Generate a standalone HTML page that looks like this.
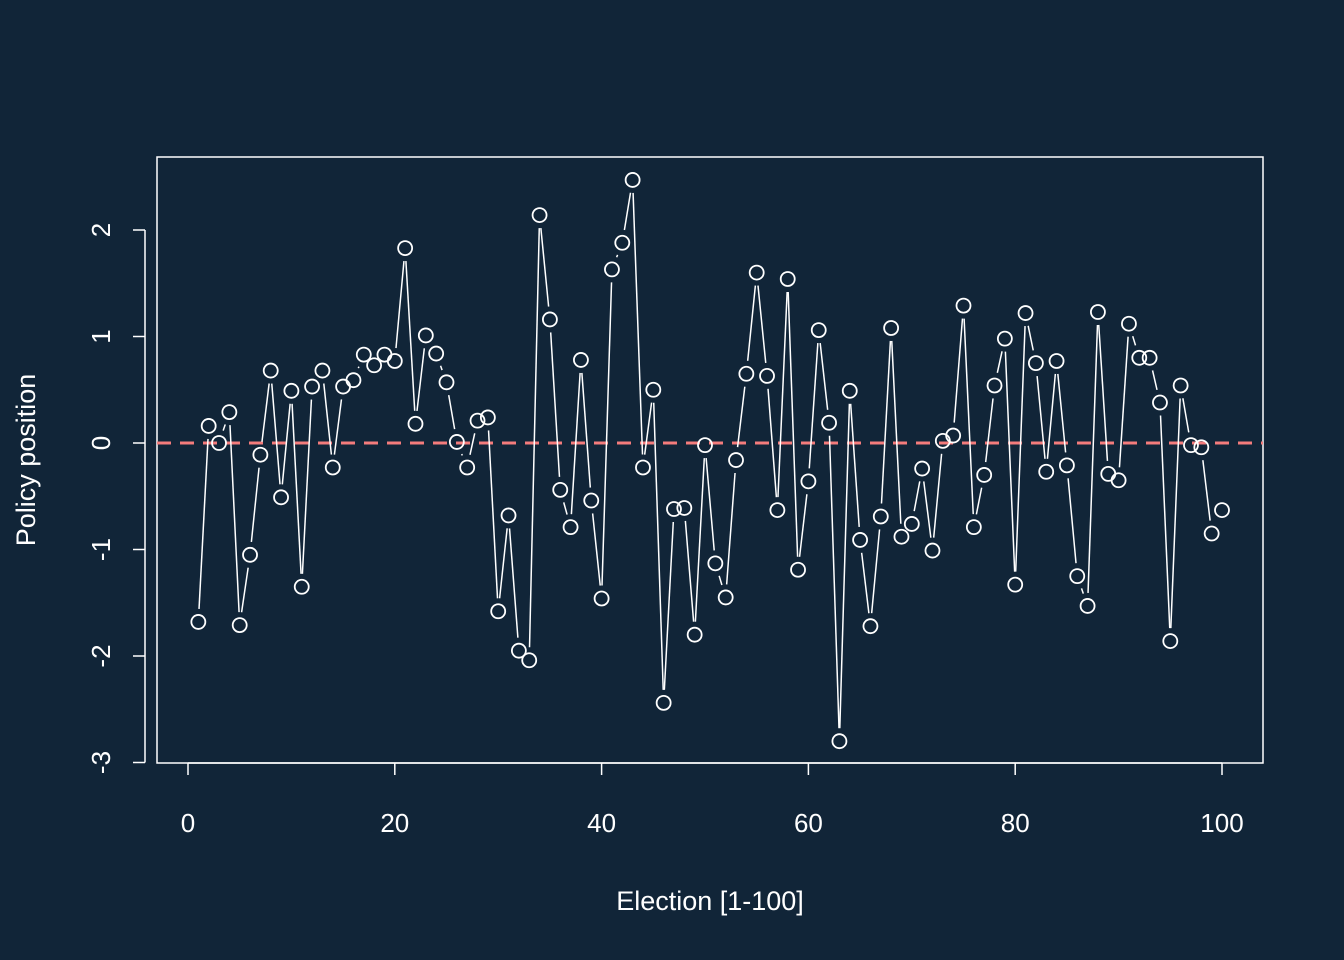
<!DOCTYPE html>
<html><head><meta charset="utf-8"><style>
body{margin:0;background:#112538;}
svg{display:block;font-family:"Liberation Sans",sans-serif;}
</style></head><body>
<svg id="chart" width="1344" height="960">
<rect width="1344" height="960" fill="#112538"/>
<rect x="157" y="157" width="1106" height="606" fill="none" stroke="#fff" stroke-width="1.5"/>
<g id="axes"></g>
<line id="ref" stroke="#F47C7C" stroke-width="3" stroke-dasharray="14,9"/>
<g id="marks"></g>
<text x="710" y="910" fill="#fff" font-size="27" text-anchor="middle">Election [1-100]</text>
<text transform="translate(35,460) rotate(-90)" fill="#fff" font-size="27" text-anchor="middle">Policy position</text>
</svg>
<script>
const positions=[-1.68,0.16,0.0,0.29,-1.71,-1.05,-0.11,0.68,-0.51,0.49,-1.35,0.53,0.68,-0.23,0.53,0.59,0.83,0.73,0.83,0.77,1.83,0.18,1.01,0.84,0.57,0.01,-0.23,0.21,0.24,-1.58,-0.68,-1.95,-2.04,2.14,1.16,-0.44,-0.79,0.78,-0.54,-1.46,1.63,1.88,2.47,-0.23,0.50,-2.44,-0.62,-0.61,-1.80,-0.02,-1.13,-1.45,-0.16,0.65,1.60,0.63,-0.63,1.54,-1.19,-0.36,1.06,0.19,-2.80,0.49,-0.91,-1.72,-0.69,1.08,-0.88,-0.76,-0.24,-1.01,0.02,0.07,1.29,-0.79,-0.30,0.54,0.98,-1.33,1.22,0.75,-0.27,0.77,-0.21,-1.25,-1.53,1.23,-0.29,-0.35,1.12,0.80,0.80,0.38,-1.86,0.54,-0.02,-0.04,-0.85,-0.63];
const xTicks=[0,20,40,60,80,100];
const yTicks=[-3,-2,-1,0,1,2];
const refValue=0;
const NS="http://www.w3.org/2000/svg";
const xs=v=>188+v*10.34, ys=v=>443-v*106.5;
function mk(t,a,p){const e=document.createElementNS(NS,t);for(const k in a)e.setAttribute(k,a[k]);p.appendChild(e);return e;}
const axes=document.getElementById('axes'), marks=document.getElementById('marks');
mk('line',{x1:xs(0),x2:xs(100),y1:763,y2:763,stroke:'#fff','stroke-width':1.5},axes);
mk('line',{x1:145,x2:145,y1:ys(-3),y2:ys(2),stroke:'#fff','stroke-width':1.5},axes);
xTicks.forEach(t=>{
 const l=mk('line',{x1:xs(t),x2:xs(t),y1:763,y2:775,stroke:'#fff','stroke-width':1.5},axes);
 
 
 const tx=mk('text',{x:xs(t),y:832,fill:'#fff','font-size':26,'text-anchor':'middle'},axes);
 tx.textContent=t;
 
 
});
yTicks.forEach(t=>{
 const l=mk('line',{x1:133,x2:145,y1:ys(t),y2:ys(t),stroke:'#fff','stroke-width':1.5},axes);
 
 
 const tx=mk('text',{transform:`translate(110,${ys(t)}) rotate(-90)`,fill:'#fff','font-size':26,'text-anchor':'middle'},axes);
 tx.textContent=t;
 
 
});
const r=document.getElementById('ref');
r.setAttribute('x1',157);r.setAttribute('x2',1263);r.setAttribute('y1',ys(refValue));r.setAttribute('y2',ys(refValue));
const gap=13;
for(let i=0;i<positions.length-1;i++){
 const x1=xs(i+1),y1=ys(positions[i]),x2=xs(i+2),y2=ys(positions[i+1]);
 const dx=x2-x1,dy=y2-y1,L=Math.hypot(dx,dy);
 if(L<=2*gap)continue;
 const ux=dx/L,uy=dy/L;
 const s=mk('line',{x1:x1+ux*gap,y1:y1+uy*gap,x2:x2-ux*gap,y2:y2-uy*gap,stroke:'#fff','stroke-width':1.5},marks);
 
 
}
positions.forEach((v,i)=>{
 const c=mk('circle',{cx:xs(i+1),cy:ys(v),r:7,fill:'none',stroke:'#fff','stroke-width':1.8},marks);
 
 
});
</script>
</body></html>
